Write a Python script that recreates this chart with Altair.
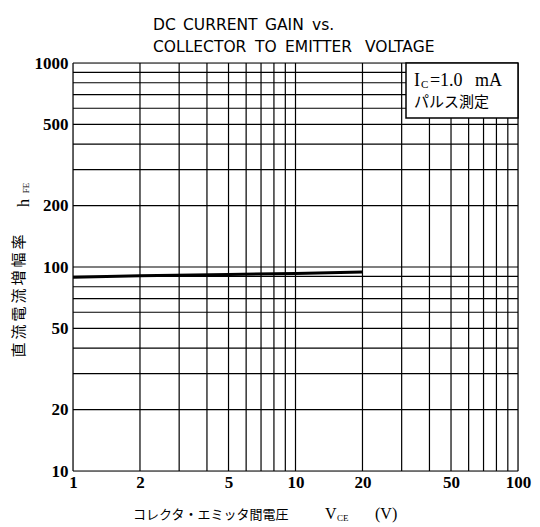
import altair as alt
import pandas as pd

# data
vce = [1, 2, 5, 10, 20]
hfe = [89, 90.5, 92, 93, 94.5]

grid_x = [1, 2, 3, 4, 5, 6, 7, 8, 9, 10, 20, 30, 40, 50, 60, 70, 80, 90, 100]
grid_y = [10, 20, 30, 40, 50, 60, 70, 80, 90, 100, 200, 300, 400, 500, 600, 700, 800, 900, 1000]
x_ticks = [1, 2, 5, 10, 20, 50, 100]
y_ticks = [10, 20, 50, 100, 200, 500, 1000]

W, H = 445, 408
xs = alt.Scale(type="log", domain=[1, 100], nice=False)
ys = alt.Scale(type="log", domain=[10, 1000], nice=False)

SERIF = "Liberation Serif"
SANS = "DejaVu Sans"
JP = "Noto Sans CJK JP"

xaxis = alt.Axis(values=x_ticks, grid=False, ticks=False, domain=False, labelFont=SERIF,
                 labelFontSize=17, labelFontWeight="bold", labelColor="black", labelPadding=3,
                 title=None, labelFlush=False, labelOverlap=False, format="d")
yaxis = alt.Axis(values=y_ticks, grid=False, ticks=False, domain=False, labelFont=SERIF,
                 labelFontSize=17, labelFontWeight="bold", labelColor="black", labelPadding=5,
                 title=None, labelFlush=False, labelOverlap=False, format="d")

gx = alt.Chart(pd.DataFrame({"x": grid_x})).mark_rule(color="black", strokeWidth=1.2).encode(
    x=alt.X("x:Q", scale=xs, axis=xaxis))
gy = alt.Chart(pd.DataFrame({"y": grid_y})).mark_rule(color="black", strokeWidth=1.2).encode(
    y=alt.Y("y:Q", scale=ys, axis=yaxis))

line = alt.Chart(pd.DataFrame({"x": vce, "y": hfe})).mark_line(color="black", strokeWidth=3).encode(
    x=alt.X("x:Q", scale=xs), y=alt.Y("y:Q", scale=ys))

one = pd.DataFrame({"a": [0]})

box = alt.Chart(one).mark_rect(fill="white", stroke="black", strokeWidth=1.5).encode(
    x=alt.value(333), x2=alt.value(W), y=alt.value(0), y2=alt.value(55))


def txt(s, x, y, size, font, align="left", baseline="alphabetic", angle=0, weight="normal"):
    kw = dict(text=s, fontSize=size, font=font, align=align, baseline=baseline,
              color="black", fontWeight=weight)
    if angle:
        kw["angle"] = angle
    return alt.Chart(one).mark_text(**kw).encode(x=alt.value(x), y=alt.value(y))


title_words = [("DC", 80, -33), ("CURRENT", 110, -33), ("GAIN", 192, -33), ("vs.", 239, -33),
               ("COLLECTOR", 80, -11), ("TO", 182, -11), ("EMITTER", 212, -11), ("VOLTAGE", 292, -11)]

texts = [txt(w, x, y, 15.5, SANS) for w, x, y in title_words]

ylabel_chars = "直流電流増幅率"
texts += [txt(c, -54, 287 - 18 * i, 15, JP, align="center", baseline="middle", angle=270)
          for i, c in enumerate(ylabel_chars)]

texts += [
    txt("I", 341, 23, 18, SERIF),
    txt("C", 348, 25, 11, SERIF),
    txt("=", 357, 23, 18, SERIF),
    txt("1.0", 367, 23, 18, SERIF),
    txt("mA", 402, 23, 18, SERIF),
    txt("パルス測定", 341, 44, 15, JP),
    txt("コレクタ・エミッタ間電圧", 60, 456, 13, JP),
    txt("V", 252, 456, 16, SERIF),
    txt("CE", 264, 458, 9, SERIF),
    txt("(V)", 302, 456, 16, SERIF),
    txt("h", -49, 140, 16, SERIF, align="center", baseline="middle", angle=270),
    txt("FE", -47, 125, 9, SERIF, align="center", baseline="middle", angle=270),
]

chart = alt.layer(gx, gy, box, line, *texts).properties(
    width=W, height=H,
    autosize=alt.AutoSizeParams(type="none"),
    padding={"left": 65, "top": 55, "right": 14, "bottom": 56},
).configure_view(stroke="black", strokeWidth=2.5).configure(background="white")

chart.save("out.html", embed_options={"renderer": "svg", "actions": False})
